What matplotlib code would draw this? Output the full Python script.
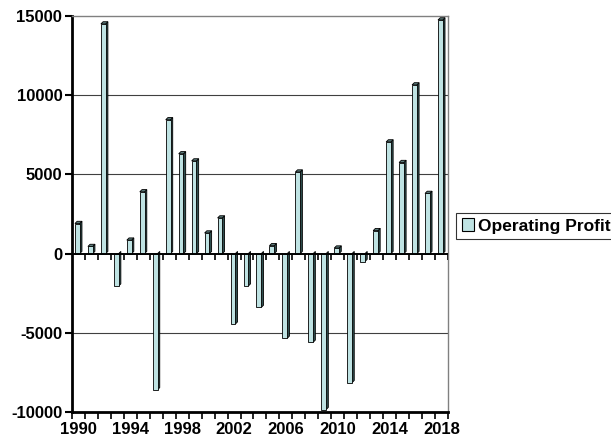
import matplotlib.pyplot as plt
from matplotlib.patches import Polygon, Patch
import numpy as np

plt.rcParams['font.family'] = ['Liberation Sans', 'DejaVu Sans']
plt.rcParams['font.weight'] = 'bold'

years = list(range(1990, 2019))
profit = [1900, 450, 14500, -2050, 850, 3900, -8600, 8450, 6300, 5850,
          1300, 2250, -4450, -2050, -3400, 500, -5350, 5150, -5600, -9850,
          350, -8150, -500, 1450, 7050, 5750, 10650, 3800, 14750]
yticks = [-10000, -5000, 0, 5000, 10000, 15000]
label_years = years[::4]

face = '#bfe3e3'
side = '#2f4f4f'
top = '#5a7a7a'

fig = plt.figure(figsize=[6.11, 4.45], dpi=100)
ax = fig.add_axes([0.1178, 0.0742, 0.6154, 0.8898])
ax.set_xlim(0, len(years))
ax.set_ylim(-10000, 15000)

# pseudo 3-D columns: front face, dark side, shaded top
x0, x1, dx, dy = 0.23, 0.6, 0.17, 140
for i, v in enumerate(profit):
    ax.add_patch(Polygon([(i + x1, 0), (i + x1, v), (i + x1 + dx, v + dy), (i + x1 + dx, dy)],
                         closed=True, fc=side, ec='black', lw=0.6, zorder=3))
    if v > 0:
        ax.add_patch(Polygon([(i + x0, v), (i + x1, v), (i + x1 + dx, v + dy), (i + x0 + dx, v + dy)],
                             closed=True, fc=top, ec='black', lw=0.6, zorder=3))
    ax.add_patch(Polygon([(i + x0, 0), (i + x1, 0), (i + x1, v), (i + x0, v)],
                         closed=True, fc=face, ec='black', lw=0.6, zorder=4))

# gridlines and zero line
for g in [-5000, 5000, 10000]:
    ax.axhline(g, color='#404040', lw=0.8, zorder=1)
ax.axhline(0, color='black', lw=1.4, zorder=5)

for s in ['top', 'right']:
    ax.spines[s].set_color('#808080')
    ax.spines[s].set_linewidth(1.0)
for s in ['left', 'bottom']:
    ax.spines[s].set_color('black')
    ax.spines[s].set_linewidth(2.0)

ax.set_yticks(yticks)
ax.set_yticklabels([str(t) for t in yticks], fontsize=12, fontweight='bold')
ax.tick_params(axis='y', length=5, width=1.5, direction='out', pad=2)

# category boundary ticks on the bottom axis, year labels at category centres
ax.set_xticks(np.arange(len(years) + 1))
ax.set_xticklabels([])
ax.tick_params(axis='x', which='major', length=5, width=1.2, direction='out')
ax.set_xticks([years.index(y) + 0.5 for y in label_years], minor=True)
ax.set_xticklabels([str(y) for y in label_years], minor=True, fontsize=12, fontweight='bold')
ax.tick_params(axis='x', which='minor', length=0, pad=7)

# tick marks hanging below the zero line
ax.vlines(np.arange(len(years) + 1), -380, 0, color='black', lw=1.2, zorder=5)

leg = fig.legend(handles=[Patch(fc=face, ec='black', lw=0.8, label='Operating Profit')],
                 loc='upper left', bbox_to_anchor=(0.747, 0.521),
                 prop={'size': 12.5, 'weight': 'bold'}, fancybox=False,
                 handlelength=0.7, handleheight=0.7, handletextpad=0.25,
                 borderpad=0.3, borderaxespad=0)
leg.get_frame().set_edgecolor('black')
leg.get_frame().set_linewidth(0.8)

fig.savefig('out.png', dpi=100)
